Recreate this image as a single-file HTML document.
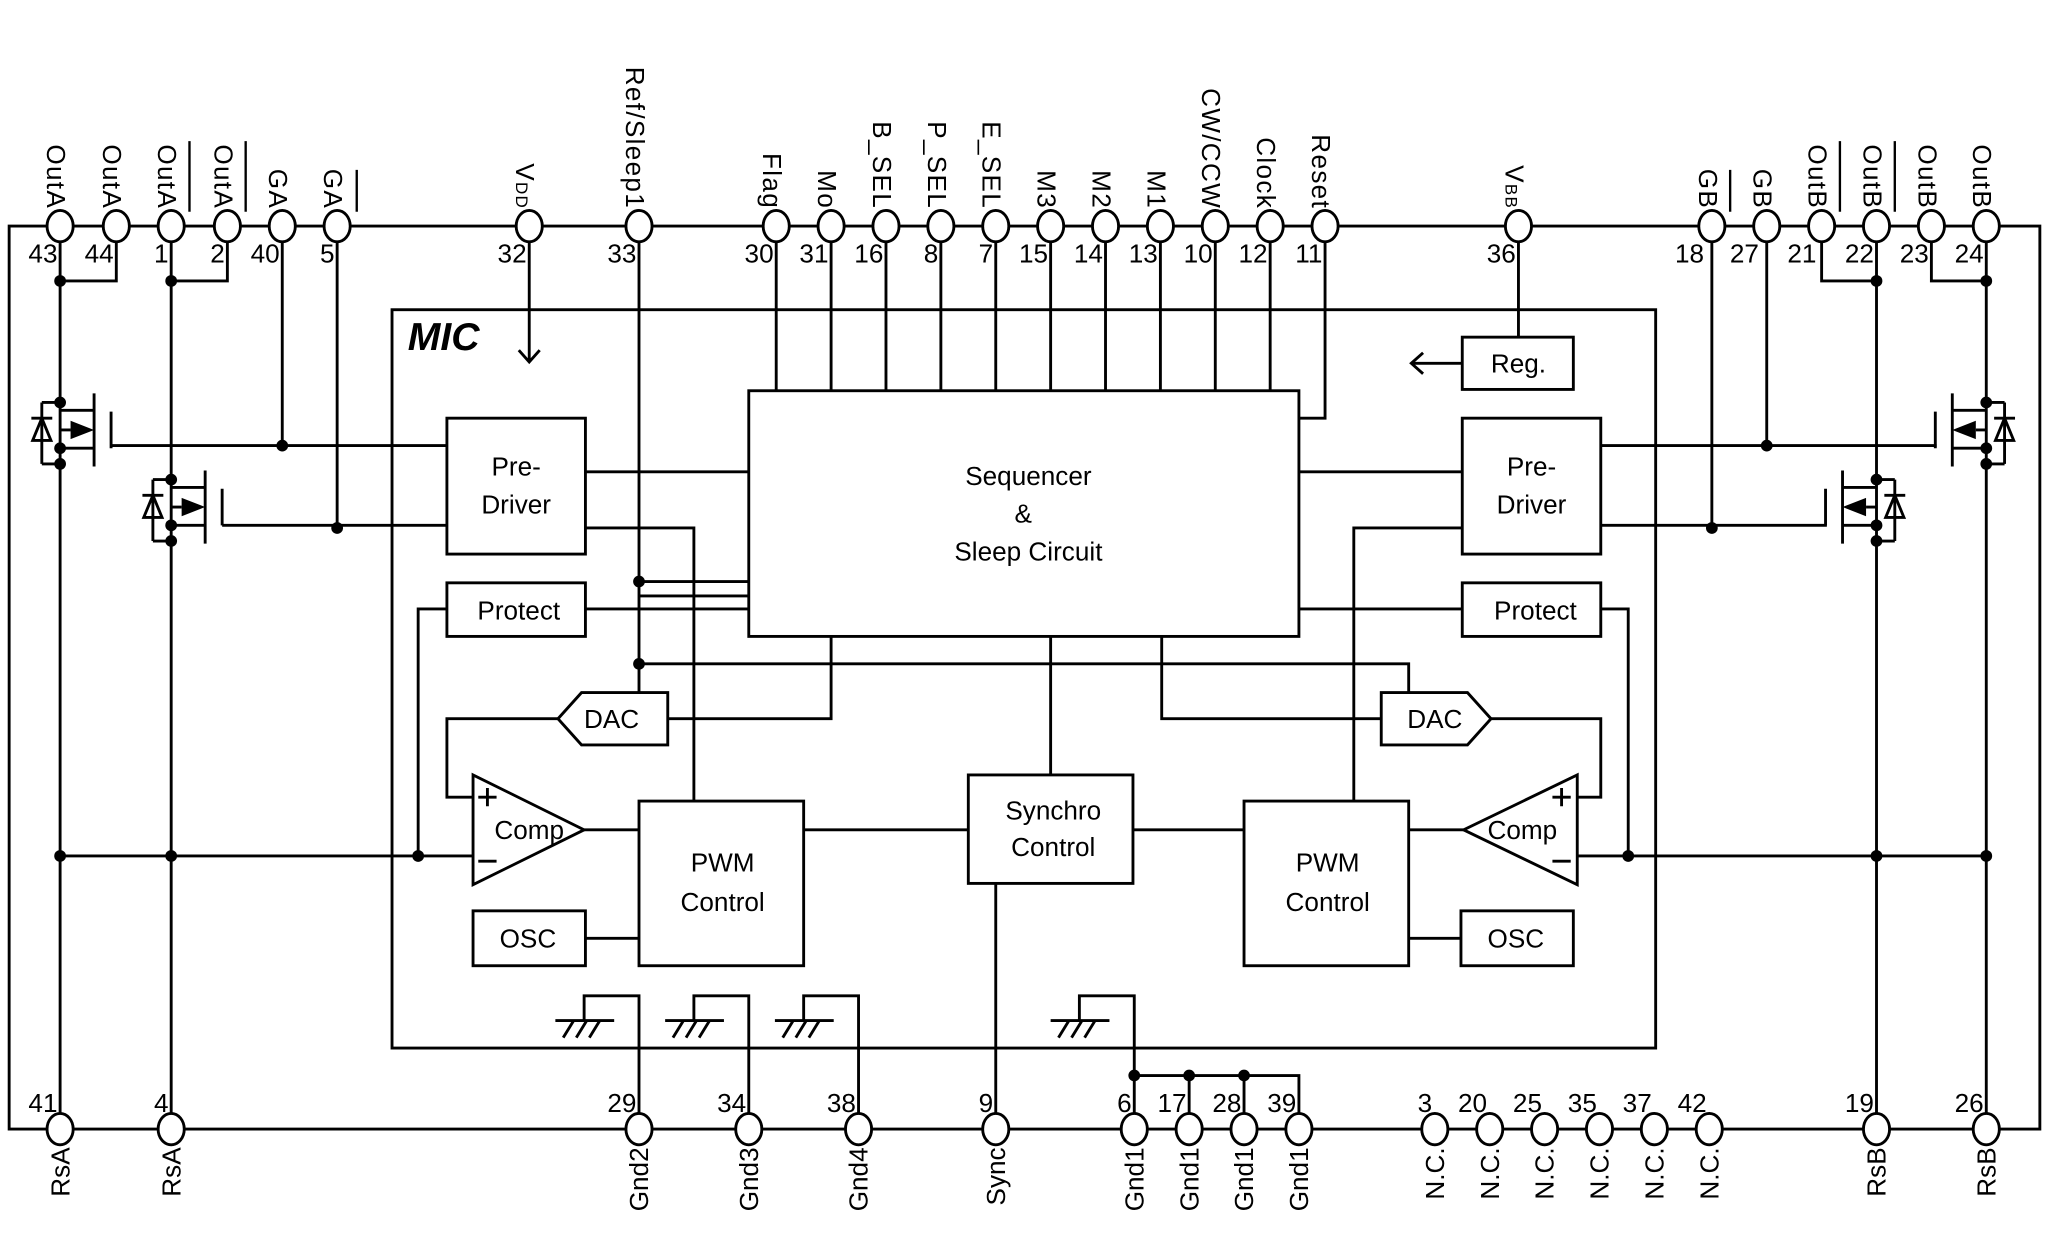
<!DOCTYPE html>
<html><head><meta charset="utf-8"><style>
html,body{margin:0;padding:0;background:#fff}
svg{display:block}
text{font-family:"Liberation Sans",sans-serif;fill:#000}
</style></head><body>
<svg width="2049" height="1248" viewBox="0 0 1568 955" preserveAspectRatio="none" xmlns="http://www.w3.org/2000/svg">
<g stroke="#000" stroke-width="2.2" fill="none">
<path d="M7 173H1561V864H7Z"/>
<rect x="300" y="237" width="967" height="565"/>
<rect x="573" y="299" width="421" height="188"/>
<rect x="342" y="320" width="106" height="104"/>
<rect x="342" y="446" width="106" height="41"/>
<rect x="1119" y="320" width="106" height="104"/>
<rect x="1119" y="446" width="106" height="41"/>
<rect x="1119" y="258" width="85" height="40"/>
<rect x="489" y="613" width="126" height="126"/>
<rect x="952" y="613" width="126" height="126"/>
<rect x="741" y="593" width="126" height="83"/>
<rect x="362" y="697" width="86" height="42"/>
<rect x="1118" y="697" width="86" height="42"/>
<path d="M427 550L445 530H511V570H445Z"/>
<path d="M1141 550L1123 530H1057V570H1123Z"/>
<path d="M362 593V677L447 635Z"/>
<path d="M1207 593V677L1120 635Z"/>
<path d="M366 610h14M373 603v14M366 659h14"/>
<path d="M1188 610h14M1195 603v14M1188 659h14"/>
<path d="M46 173V864M131 173V864"/>
<path d="M46 215H89V173M131 215H174V173"/>
<path d="M216 173V341M258 173V404"/>
<path d="M85 341H342M170 402H342"/>
<path d="M46 655H362M342 466H320V655M362 610H342V550H427"/>
<path d="M511 550H636V487M448 361H573M448 404H531V613"/>
<path d="M489 173V530M489 445H573M489 456H573M448 466H573"/>
<path d="M489 508H1078V530"/>
<path d="M405 173V277M397 268L405 277L413 268"/>
<path d="M447 635H489M615 635H741M867 635H952M1078 635H1120M448 718H489M1078 718H1118"/>
<path d="M804 487V593M889 487V550H1057M1141 550H1225V610H1207"/>
<path d="M1225 466H1246V655M1207 655H1520"/>
<path d="M994 361H1119M994 466H1119M1119 404H1036V613"/>
<path d="M1225 341H1482M1225 402H1398"/>
<path d="M1352 173V341M1310 173V402"/>
<path d="M1436 173V864M1520 173V864M1436 215H1394V173M1520 215H1478V173"/>
<path d="M1162 173V258M1119 278H1080M1089 270L1080 278L1089 286"/>
<path d="M594 173V299M636 173V299M678 173V299M720 173V299M762 173V299M804 173V299M846 173V299M888 173V299M930 173V299M972 173V299M1014 173V320H994"/>
<path d="M762 676V864"/>
<path d="M489 864V762H447V781M573 864V762H531V781M657 864V762H615V781M868 864V762H826V781"/>
<path d="M868 823H994V864M910 823V864M952 823V864"/>
<path d="M425 781H470M431 794L439 781M441 794L449 781M451 794L459 781"/>
<path d="M509 781H554M515 794L523 781M525 794L533 781M535 794L543 781"/>
<path d="M593 781H638M599 794L607 781M609 794L617 781M619 794L627 781"/>
<path d="M804 781H849M810 794L818 781M820 794L828 781M830 794L838 781"/>
<path d="M46 314H72M72 301V357M85 315V343M46 343H72M46 329H54M32 308H46M32 355H46M32 308V355M24 320H40"/>
<path d="M131 373H157M157 360V416M170 374V402M131 402H157M131 388H139M117 367H131M117 414H131M117 367V414M109 379H125"/>
<path d="M1520 314H1494M1494 301V357M1481 315V343M1520 343H1494M1520 329H1512M1534 308H1520M1534 355H1520M1534 308V355M1542 320H1526"/>
<path d="M1436 373H1410M1410 360V416M1397 374V402M1436 402H1410M1436 388H1428M1450 367H1436M1450 414H1436M1450 367V414M1458 379H1442"/>
<path d="M32 320L25 337H39Z M117 379L110 396H124Z M1534 320L1527 337H1541Z M1450 379L1443 396H1457Z"/>
</g>
<g fill="#000">
<path d="M54 322V336L72 329Z M139 381V395L157 388Z M1512 322V336L1494 329Z M1428 381V395L1410 388Z"/>
<circle cx="46" cy="215" r="4.5"/><circle cx="131" cy="215" r="4.5"/><circle cx="1436" cy="215" r="4.5"/><circle cx="1520" cy="215" r="4.5"/>
<circle cx="46" cy="308" r="4.5"/><circle cx="46" cy="343" r="4.5"/><circle cx="46" cy="355" r="4.5"/>
<circle cx="131" cy="367" r="4.5"/><circle cx="131" cy="402" r="4.5"/><circle cx="131" cy="414" r="4.5"/>
<circle cx="1520" cy="308" r="4.5"/><circle cx="1520" cy="343" r="4.5"/><circle cx="1520" cy="355" r="4.5"/>
<circle cx="1436" cy="367" r="4.5"/><circle cx="1436" cy="402" r="4.5"/><circle cx="1436" cy="414" r="4.5"/>
<circle cx="216" cy="341" r="4.5"/><circle cx="258" cy="404" r="4.5"/><circle cx="1352" cy="341" r="4.5"/><circle cx="1310" cy="404" r="4.5"/>
<circle cx="46" cy="655" r="4.5"/><circle cx="131" cy="655" r="4.5"/><circle cx="320" cy="655" r="4.5"/>
<circle cx="1246" cy="655" r="4.5"/><circle cx="1436" cy="655" r="4.5"/><circle cx="1520" cy="655" r="4.5"/>
<circle cx="489" cy="445" r="4.5"/><circle cx="489" cy="508" r="4.5"/>
<circle cx="868" cy="823" r="4.5"/><circle cx="910" cy="823" r="4.5"/><circle cx="952" cy="823" r="4.5"/>
</g>
<g stroke="#000" stroke-width="2.2" fill="#fff">
<ellipse cx="46" cy="173" rx="10" ry="12"/><ellipse cx="89" cy="173" rx="10" ry="12"/><ellipse cx="131" cy="173" rx="10" ry="12"/><ellipse cx="174" cy="173" rx="10" ry="12"/><ellipse cx="216" cy="173" rx="10" ry="12"/><ellipse cx="258" cy="173" rx="10" ry="12"/><ellipse cx="405" cy="173" rx="10" ry="12"/><ellipse cx="489" cy="173" rx="10" ry="12"/>
<ellipse cx="594" cy="173" rx="10" ry="12"/><ellipse cx="636" cy="173" rx="10" ry="12"/><ellipse cx="678" cy="173" rx="10" ry="12"/><ellipse cx="720" cy="173" rx="10" ry="12"/><ellipse cx="762" cy="173" rx="10" ry="12"/><ellipse cx="804" cy="173" rx="10" ry="12"/><ellipse cx="846" cy="173" rx="10" ry="12"/><ellipse cx="888" cy="173" rx="10" ry="12"/><ellipse cx="930" cy="173" rx="10" ry="12"/><ellipse cx="972" cy="173" rx="10" ry="12"/><ellipse cx="1014" cy="173" rx="10" ry="12"/>
<ellipse cx="1162" cy="173" rx="10" ry="12"/><ellipse cx="1310" cy="173" rx="10" ry="12"/><ellipse cx="1352" cy="173" rx="10" ry="12"/><ellipse cx="1394" cy="173" rx="10" ry="12"/><ellipse cx="1436" cy="173" rx="10" ry="12"/><ellipse cx="1478" cy="173" rx="10" ry="12"/><ellipse cx="1520" cy="173" rx="10" ry="12"/>
<ellipse cx="46" cy="864" rx="10" ry="12"/><ellipse cx="131" cy="864" rx="10" ry="12"/><ellipse cx="489" cy="864" rx="10" ry="12"/><ellipse cx="573" cy="864" rx="10" ry="12"/><ellipse cx="657" cy="864" rx="10" ry="12"/><ellipse cx="762" cy="864" rx="10" ry="12"/>
<ellipse cx="868" cy="864" rx="10" ry="12"/><ellipse cx="910" cy="864" rx="10" ry="12"/><ellipse cx="952" cy="864" rx="10" ry="12"/><ellipse cx="994" cy="864" rx="10" ry="12"/>
<ellipse cx="1098" cy="864" rx="10" ry="12"/><ellipse cx="1140" cy="864" rx="10" ry="12"/><ellipse cx="1182" cy="864" rx="10" ry="12"/><ellipse cx="1224" cy="864" rx="10" ry="12"/><ellipse cx="1266" cy="864" rx="10" ry="12"/><ellipse cx="1308" cy="864" rx="10" ry="12"/>
<ellipse cx="1436" cy="864" rx="10" ry="12"/><ellipse cx="1520" cy="864" rx="10" ry="12"/>
</g>
<g stroke="#000" stroke-width="1.8">
<path d="M145 108V162M188 108V162M273 130V162M1324 130V162M1408 108V162M1450 108V162"/>
</g>
<g font-size="20" text-anchor="end" letter-spacing="1">
<text transform="translate(36,160) rotate(90)">OutA</text>
<text transform="translate(79,160) rotate(90)">OutA</text>
<text transform="translate(121,160) rotate(90)">OutA</text>
<text transform="translate(164,160) rotate(90)">OutA</text>
<text transform="translate(206,160) rotate(90)">GA</text>
<text transform="translate(248,160) rotate(90)">GA</text>
<text transform="translate(395,160) rotate(90)">V<tspan font-size="13">DD</tspan></text>
<text transform="translate(479,160) rotate(90)">Ref/Sleep1</text>
<text transform="translate(584,160) rotate(90)">Flag</text>
<text transform="translate(626,160) rotate(90)">Mo</text>
<text transform="translate(668,160) rotate(90)">B_SEL</text>
<text transform="translate(710,160) rotate(90)">P_SEL</text>
<text transform="translate(752,160) rotate(90)">E_SEL</text>
<text transform="translate(794,160) rotate(90)">M3</text>
<text transform="translate(836,160) rotate(90)">M2</text>
<text transform="translate(878,160) rotate(90)">M1</text>
<text transform="translate(920,160) rotate(90)">CW/CCW</text>
<text transform="translate(962,160) rotate(90)">Clock</text>
<text transform="translate(1004,160) rotate(90)">Reset</text>
<text transform="translate(1152,160) rotate(90)">V<tspan font-size="13">BB</tspan></text>
<text transform="translate(1300,160) rotate(90)">GB</text>
<text transform="translate(1342,160) rotate(90)">GB</text>
<text transform="translate(1384,160) rotate(90)">OutB</text>
<text transform="translate(1426,160) rotate(90)">OutB</text>
<text transform="translate(1468,160) rotate(90)">OutB</text>
<text transform="translate(1510,160) rotate(90)">OutB</text>
</g>
<g font-size="20" text-anchor="end">
<text transform="translate(53,878) rotate(-90)">RsA</text>
<text transform="translate(138,878) rotate(-90)">RsA</text>
<text transform="translate(496,878) rotate(-90)">Gnd2</text>
<text transform="translate(580,878) rotate(-90)">Gnd3</text>
<text transform="translate(664,878) rotate(-90)">Gnd4</text>
<text transform="translate(769,878) rotate(-90)">Sync</text>
<text transform="translate(875,878) rotate(-90)">Gnd1</text>
<text transform="translate(917,878) rotate(-90)">Gnd1</text>
<text transform="translate(959,878) rotate(-90)">Gnd1</text>
<text transform="translate(1001,878) rotate(-90)">Gnd1</text>
<text transform="translate(1105,878) rotate(-90)">N.C.</text>
<text transform="translate(1147,878) rotate(-90)">N.C.</text>
<text transform="translate(1189,878) rotate(-90)">N.C.</text>
<text transform="translate(1231,878) rotate(-90)">N.C.</text>
<text transform="translate(1273,878) rotate(-90)">N.C.</text>
<text transform="translate(1315,878) rotate(-90)">N.C.</text>
<text transform="translate(1443,878) rotate(-90)">RsB</text>
<text transform="translate(1527,878) rotate(-90)">RsB</text>
</g>
<g font-size="20" text-anchor="end">
<text x="44" y="201">43</text><text x="87" y="201">44</text><text x="129" y="201">1</text><text x="172" y="201">2</text><text x="214" y="201">40</text><text x="256" y="201">5</text><text x="403" y="201">32</text><text x="487" y="201">33</text>
<text x="592" y="201">30</text><text x="634" y="201">31</text><text x="676" y="201">16</text><text x="718" y="201">8</text><text x="760" y="201">7</text><text x="802" y="201">15</text><text x="844" y="201">14</text><text x="886" y="201">13</text><text x="928" y="201">10</text><text x="970" y="201">12</text><text x="1012" y="201">11</text>
<text x="1160" y="201">36</text><text x="1304" y="201">18</text><text x="1346" y="201">27</text><text x="1390" y="201">21</text><text x="1434" y="201">22</text><text x="1476" y="201">23</text><text x="1518" y="201">24</text>
<text x="44" y="851">41</text><text x="129" y="851">4</text><text x="487" y="851">29</text><text x="571" y="851">34</text><text x="655" y="851">38</text><text x="760" y="851">9</text>
<text x="866" y="851">6</text><text x="908" y="851">17</text><text x="950" y="851">28</text><text x="992" y="851">39</text>
<text x="1096" y="851">3</text><text x="1138" y="851">20</text><text x="1180" y="851">25</text><text x="1222" y="851">35</text><text x="1264" y="851">37</text><text x="1306" y="851">42</text>
<text x="1434" y="851">19</text><text x="1518" y="851">26</text>
</g>
<text x="312" y="268" font-size="30" font-weight="bold" font-style="italic">MIC</text>
<g font-size="20" text-anchor="middle">
<text x="787" y="371">Sequencer</text><text x="783" y="400">&amp;</text><text x="787" y="429">Sleep Circuit</text>
<text x="395" y="364">Pre-</text><text x="395" y="393">Driver</text>
<text x="1172" y="364">Pre-</text><text x="1172" y="393">Driver</text>
<text x="397" y="474">Protect</text><text x="1175" y="474">Protect</text>
<text x="1162" y="285">Reg.</text>
<text x="468" y="557">DAC</text><text x="1098" y="557">DAC</text>
<text x="405" y="642">Comp</text><text x="1165" y="642">Comp</text>
<text x="553" y="667">PWM</text><text x="553" y="697">Control</text>
<text x="1016" y="667">PWM</text><text x="1016" y="697">Control</text>
<text x="806" y="627">Synchro</text><text x="806" y="655">Control</text>
<text x="404" y="725">OSC</text><text x="1160" y="725">OSC</text>
</g>
</svg>
</body></html>
